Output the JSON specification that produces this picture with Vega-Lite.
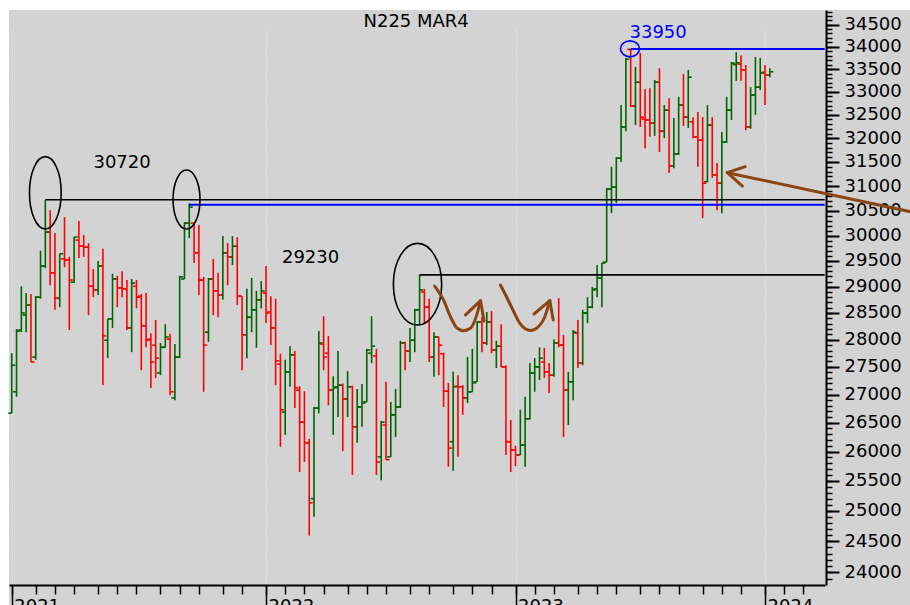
{
  "$schema": "https://vega.github.io/schema/vega-lite/v6.json",
  "width": 901,
  "height": 595,
  "autosize": {"type": "none"},
  "padding": {"left": 9, "top": 10, "right": 0, "bottom": 0},
  "background": "#ffffff",
  "config": {"view": {"fill": "#d3d3d3", "stroke": null}, "font": "DejaVu Sans"},
  "datasets": {
    "ohlc": [
      {"date":"2021-01-01","open":26670,"high":27750,"low":26670,"close":27530},
      {"date":"2021-01-08","open":27050,"high":28200,"low":26960,"close":28160},
      {"date":"2021-01-15","open":28180,"high":29010,"low":28140,"close":28500},
      {"date":"2021-01-22","open":28460,"high":28880,"low":28140,"close":28650},
      {"date":"2021-01-29","open":28650,"high":28860,"low":27590,"close":27590},
      {"date":"2021-02-05","open":27680,"high":28820,"low":27630,"close":28800},
      {"date":"2021-02-12","open":28800,"high":29700,"low":28770,"close":29400},
      {"date":"2021-02-19","open":29400,"high":30720,"low":29360,"close":30070},
      {"date":"2021-02-26","open":30070,"high":30510,"low":29030,"close":29270},
      {"date":"2021-03-05","open":29270,"high":30050,"low":28560,"close":28780},
      {"date":"2021-03-12","open":28780,"high":29640,"low":28610,"close":29640},
      {"date":"2021-03-19","open":29540,"high":30370,"low":29380,"close":29520},
      {"date":"2021-03-26","open":29520,"high":29580,"low":28180,"close":29130},
      {"date":"2021-04-02","open":29090,"high":29970,"low":29070,"close":29970},
      {"date":"2021-04-09","open":29910,"high":30290,"low":29560,"close":29790},
      {"date":"2021-04-16","open":29790,"high":30010,"low":29580,"close":29770},
      {"date":"2021-04-23","open":29770,"high":29850,"low":28460,"close":29010},
      {"date":"2021-04-30","open":29010,"high":29340,"low":28800,"close":28940},
      {"date":"2021-05-07","open":28940,"high":29500,"low":28840,"close":29400},
      {"date":"2021-05-14","open":29400,"high":29740,"low":27170,"close":28070},
      {"date":"2021-05-21","open":27990,"high":28390,"low":27660,"close":28390},
      {"date":"2021-05-28","open":28390,"high":29250,"low":28220,"close":29150},
      {"date":"2021-06-04","open":29150,"high":29210,"low":28610,"close":28980},
      {"date":"2021-06-11","open":28980,"high":29300,"low":28800,"close":28960},
      {"date":"2021-06-18","open":28960,"high":29130,"low":28180,"close":28220},
      {"date":"2021-06-25","open":28220,"high":29150,"low":27770,"close":29070},
      {"date":"2021-07-02","open":29010,"high":29130,"low":28590,"close":28800},
      {"date":"2021-07-09","open":28820,"high":28860,"low":27440,"close":28260},
      {"date":"2021-07-16","open":28260,"high":28880,"low":27860,"close":27990},
      {"date":"2021-07-23","open":28010,"high":28120,"low":27120,"close":27590},
      {"date":"2021-07-30","open":27900,"high":28370,"low":27300,"close":27660},
      {"date":"2021-08-06","open":27390,"high":27940,"low":27350,"close":27860},
      {"date":"2021-08-13","open":27860,"high":28290,"low":27850,"close":28050},
      {"date":"2021-08-20","open":28010,"high":28110,"low":26990,"close":27050},
      {"date":"2021-08-27","open":26940,"high":27920,"low":26900,"close":27680},
      {"date":"2021-09-03","open":27680,"high":29210,"low":27660,"close":29190},
      {"date":"2021-09-10","open":29150,"high":30270,"low":29150,"close":30250},
      {"date":"2021-09-17","open":30250,"high":30650,"low":29950,"close":30570},
      {"date":"2021-09-24","open":30250,"high":30250,"low":29460,"close":29660},
      {"date":"2021-10-01","open":29660,"high":30210,"low":28840,"close":29130},
      {"date":"2021-10-08","open":29130,"high":29190,"low":27050,"close":27900},
      {"date":"2021-10-15","open":28140,"high":29170,"low":27960,"close":29150},
      {"date":"2021-10-22","open":29150,"high":29540,"low":28460,"close":28920},
      {"date":"2021-10-29","open":28920,"high":29270,"low":28420,"close":28840},
      {"date":"2021-11-05","open":28840,"high":29990,"low":28750,"close":29660},
      {"date":"2021-11-12","open":29660,"high":29850,"low":29030,"close":29580},
      {"date":"2021-11-19","open":29580,"high":29990,"low":29420,"close":29790},
      {"date":"2021-11-26","open":29790,"high":29970,"low":28650,"close":28820},
      {"date":"2021-12-03","open":28820,"high":28820,"low":27440,"close":28090},
      {"date":"2021-12-10","open":28090,"high":28960,"low":27660,"close":28420},
      {"date":"2021-12-17","open":28420,"high":29170,"low":28140,"close":28560},
      {"date":"2021-12-24","open":28560,"high":28920,"low":27850,"close":28750},
      {"date":"2021-12-31","open":28750,"high":29110,"low":28590,"close":28920},
      {"date":"2022-01-07","open":28880,"high":29400,"low":28310,"close":28500},
      {"date":"2022-01-14","open":28520,"high":28820,"low":27900,"close":28220},
      {"date":"2022-01-21","open":28220,"high":28770,"low":27170,"close":27610},
      {"date":"2022-01-28","open":27550,"high":27740,"low":26080,"close":26730},
      {"date":"2022-02-04","open":26690,"high":27630,"low":26290,"close":27410},
      {"date":"2022-02-11","open":27410,"high":27880,"low":27140,"close":27720},
      {"date":"2022-02-18","open":27720,"high":27790,"low":26760,"close":27120},
      {"date":"2022-02-25","open":27080,"high":27150,"low":25650,"close":26510},
      {"date":"2022-03-04","open":26510,"high":27060,"low":25820,"close":26150},
      {"date":"2022-03-11","open":26150,"high":26220,"low":24590,"close":25130},
      {"date":"2022-03-18","open":25200,"high":26780,"low":24900,"close":26760},
      {"date":"2022-03-25","open":26760,"high":28160,"low":26670,"close":27940},
      {"date":"2022-04-01","open":27920,"high":28440,"low":27440,"close":27680},
      {"date":"2022-04-08","open":27750,"high":28070,"low":26810,"close":27080},
      {"date":"2022-04-15","open":27080,"high":27330,"low":26290,"close":27120},
      {"date":"2022-04-22","open":27140,"high":27790,"low":26600,"close":27170},
      {"date":"2022-04-29","open":27170,"high":27200,"low":26010,"close":26920},
      {"date":"2022-05-06","open":26920,"high":27420,"low":26600,"close":27140},
      {"date":"2022-05-13","open":27140,"high":27160,"low":25600,"close":26430},
      {"date":"2022-05-20","open":26430,"high":27100,"low":26150,"close":26780},
      {"date":"2022-05-27","open":26780,"high":27190,"low":26430,"close":26850},
      {"date":"2022-06-03","open":26870,"high":27830,"low":26870,"close":27810},
      {"date":"2022-06-10","open":27750,"high":28440,"low":27570,"close":27880},
      {"date":"2022-06-17","open":27700,"high":27830,"low":25600,"close":25820},
      {"date":"2022-06-24","open":25910,"high":26530,"low":25510,"close":26510},
      {"date":"2022-07-01","open":26460,"high":27230,"low":25860,"close":25860},
      {"date":"2022-07-08","open":25910,"high":26870,"low":25910,"close":26640},
      {"date":"2022-07-15","open":26640,"high":27100,"low":26250,"close":26780},
      {"date":"2022-07-22","open":26780,"high":27980,"low":26760,"close":27940},
      {"date":"2022-07-29","open":27940,"high":27960,"low":27440,"close":27790},
      {"date":"2022-08-05","open":27790,"high":28220,"low":27590,"close":27990},
      {"date":"2022-08-12","open":27990,"high":28580,"low":27770,"close":28560},
      {"date":"2022-08-19","open":28560,"high":29230,"low":28270,"close":28940},
      {"date":"2022-08-26","open":28900,"high":28960,"low":28310,"close":28610},
      {"date":"2022-09-02","open":28610,"high":28770,"low":27590,"close":27680},
      {"date":"2022-09-09","open":27680,"high":28140,"low":27320,"close":28050},
      {"date":"2022-09-16","open":28050,"high":28050,"low":27350,"close":27900},
      {"date":"2022-09-23","open":27740,"high":27760,"low":26780,"close":27060},
      {"date":"2022-09-30","open":27060,"high":27210,"low":25740,"close":26060},
      {"date":"2022-10-07","open":26170,"high":27410,"low":25670,"close":27140},
      {"date":"2022-10-14","open":27150,"high":27350,"low":25910,"close":27140},
      {"date":"2022-10-21","open":27140,"high":27170,"low":26640,"close":26940},
      {"date":"2022-10-28","open":26940,"high":27680,"low":26850,"close":27050},
      {"date":"2022-11-04","open":27050,"high":27830,"low":27050,"close":27210},
      {"date":"2022-11-11","open":27230,"high":28350,"low":27230,"close":28330},
      {"date":"2022-11-18","open":28330,"high":28420,"low":27770,"close":27940},
      {"date":"2022-11-25","open":27940,"high":28520,"low":27900,"close":28330},
      {"date":"2022-12-02","open":28330,"high":28540,"low":27750,"close":27810},
      {"date":"2022-12-09","open":27810,"high":27980,"low":27480,"close":27880},
      {"date":"2022-12-16","open":27880,"high":28290,"low":27500,"close":27500},
      {"date":"2022-12-23","open":27500,"high":27530,"low":25940,"close":26170},
      {"date":"2022-12-30","open":26170,"high":26550,"low":25650,"close":26030},
      {"date":"2023-01-06","open":26030,"high":26100,"low":25750,"close":25940},
      {"date":"2023-01-13","open":25940,"high":26730,"low":25940,"close":26110},
      {"date":"2023-01-20","open":26110,"high":26960,"low":25740,"close":26570},
      {"date":"2023-01-27","open":26570,"high":27570,"low":26560,"close":27390},
      {"date":"2023-02-03","open":27390,"high":27660,"low":27050,"close":27500},
      {"date":"2023-02-10","open":27500,"high":27860,"low":27260,"close":27660},
      {"date":"2023-02-17","open":27590,"high":27850,"low":27300,"close":27410},
      {"date":"2023-02-24","open":27410,"high":27570,"low":27030,"close":27350},
      {"date":"2023-03-03","open":27350,"high":28010,"low":27320,"close":27940},
      {"date":"2023-03-10","open":27940,"high":28780,"low":27860,"close":27900},
      {"date":"2023-03-17","open":27900,"high":28090,"low":26250,"close":27080},
      {"date":"2023-03-24","open":27080,"high":27410,"low":26460,"close":27230},
      {"date":"2023-03-31","open":27230,"high":28180,"low":26900,"close":28140},
      {"date":"2023-04-07","open":28120,"high":28370,"low":27480,"close":27570},
      {"date":"2023-04-14","open":27570,"high":28560,"low":27530,"close":28500},
      {"date":"2023-04-21","open":28500,"high":28800,"low":28310,"close":28610},
      {"date":"2023-04-28","open":28610,"high":29000,"low":28590,"close":28940},
      {"date":"2023-05-05","open":28960,"high":29420,"low":28800,"close":29170},
      {"date":"2023-05-12","open":29170,"high":29460,"low":28610,"close":29460},
      {"date":"2023-05-19","open":29480,"high":30960,"low":29480,"close":30940},
      {"date":"2023-05-26","open":30940,"high":31400,"low":30450,"close":30980},
      {"date":"2023-06-02","open":30980,"high":31600,"low":30660,"close":31580},
      {"date":"2023-06-09","open":31580,"high":32710,"low":31500,"close":32240},
      {"date":"2023-06-16","open":32240,"high":33750,"low":32150,"close":33720},
      {"date":"2023-06-23","open":33940,"high":33950,"low":32670,"close":32690},
      {"date":"2023-06-30","open":32690,"high":33550,"low":32280,"close":33210},
      {"date":"2023-07-07","open":33210,"high":33860,"low":32240,"close":32450},
      {"date":"2023-07-14","open":32410,"high":33060,"low":31790,"close":32390},
      {"date":"2023-07-21","open":32390,"high":33080,"low":32030,"close":32320},
      {"date":"2023-07-28","open":32320,"high":33260,"low":32050,"close":33210},
      {"date":"2023-08-04","open":33210,"high":33520,"low":31710,"close":32150},
      {"date":"2023-08-11","open":32150,"high":32710,"low":32000,"close":32600},
      {"date":"2023-08-18","open":32600,"high":32860,"low":31270,"close":31420},
      {"date":"2023-08-25","open":31420,"high":32430,"low":31370,"close":31670},
      {"date":"2023-09-01","open":31670,"high":32890,"low":31650,"close":32710},
      {"date":"2023-09-08","open":32710,"high":33390,"low":32260,"close":32450},
      {"date":"2023-09-15","open":32450,"high":33480,"low":32220,"close":33320},
      {"date":"2023-09-22","open":32350,"high":32450,"low":32000,"close":32030},
      {"date":"2023-09-29","open":32030,"high":32560,"low":31400,"close":31960},
      {"date":"2023-10-06","open":31960,"high":32450,"low":30350,"close":31060},
      {"date":"2023-10-13","open":31090,"high":32710,"low":31080,"close":32280},
      {"date":"2023-10-20","open":32280,"high":32450,"low":31170,"close":31230},
      {"date":"2023-10-27","open":31230,"high":31480,"low":30510,"close":31060},
      {"date":"2023-11-03","open":31060,"high":32130,"low":30450,"close":31920},
      {"date":"2023-11-10","open":31920,"high":32890,"low":31900,"close":32600},
      {"date":"2023-11-17","open":32600,"high":33660,"low":32390,"close":33630},
      {"date":"2023-11-24","open":33600,"high":33880,"low":33240,"close":33640},
      {"date":"2023-12-01","open":33610,"high":33810,"low":33240,"close":33480},
      {"date":"2023-12-08","open":33480,"high":33590,"low":32170,"close":32240},
      {"date":"2023-12-15","open":32240,"high":33100,"low":32200,"close":32930},
      {"date":"2023-12-22","open":32930,"high":33770,"low":32500,"close":33100},
      {"date":"2023-12-29","open":33100,"high":33750,"low":33040,"close":33410},
      {"date":"2024-01-05","open":33430,"high":33590,"low":32710,"close":33370},
      {"date":"2024-01-12","open":33370,"high":33520,"low":33320,"close":33440}
    ],
    "blackLevels": [
      {"start":"2021-02-19","end":"2024-04-01","price":30720},
      {"start":"2022-08-19","end":"2024-04-01","price":29230}
    ],
    "blueLevels": [
      {"start":"2021-09-17","end":"2024-04-01","price":30620},
      {"start":"2023-06-23","end":"2024-04-01","price":33950}
    ],
    "curves": [
      {"arrow":"a","date":"2022-09-10","price":29014},
      {"arrow":"a","date":"2022-09-23","price":28746},
      {"arrow":"a","date":"2022-10-03","price":28431},
      {"arrow":"a","date":"2022-10-13","price":28213},
      {"arrow":"a","date":"2022-10-22","price":28168},
      {"arrow":"a","date":"2022-11-01","price":28213},
      {"arrow":"a","date":"2022-11-08","price":28369},
      {"arrow":"a","date":"2022-11-16","price":28733},
      {"arrow":"b","date":"2022-12-15","price":29034},
      {"arrow":"b","date":"2022-12-24","price":28803},
      {"arrow":"b","date":"2023-01-03","price":28537},
      {"arrow":"b","date":"2023-01-13","price":28293},
      {"arrow":"b","date":"2023-01-28","price":28172},
      {"arrow":"b","date":"2023-02-08","price":28237},
      {"arrow":"b","date":"2023-02-17","price":28406},
      {"arrow":"b","date":"2023-02-25","price":28733}
    ],
    "segments": [
      {"date":"2022-11-16","price":28733,"date2":"2022-10-25","price2":28463},
      {"date":"2022-11-16","price":28733,"date2":"2022-11-21","price2":28350},
      {"date":"2023-02-25","price":28733,"date2":"2023-02-02","price2":28481},
      {"date":"2023-02-25","price":28733,"date2":"2023-03-02","price2":28369},
      {"date":"2023-11-11","price":31277,"date2":"2024-08-04","price2":30479},
      {"date":"2023-11-11","price":31277,"date2":"2023-12-07","price2":31402},
      {"date":"2023-11-11","price":31277,"date2":"2023-12-03","price2":31002}
    ],
    "blackTexts": [
      {"date":"2022-08-14","price":34562,"label":"N225 MAR4"},
      {"date":"2021-06-11","price":31472,"label":"30720"},
      {"date":"2022-03-13","price":29567,"label":"29230"}
    ],
    "blueTexts": [
      {"date":"2023-08-02","price":34310,"label":"33950"}
    ]
  },
  "resolve": {"axis": {"x": "independent", "y": "independent"}},
  "layer": [
    {
      "data": {"name": "ohlc"},
      "mark": {"type": "rule", "strokeWidth": 1.6},
      "encoding": {
        "x": {
          "field": "date", "type": "temporal",
          "scale": {"type": "utc", "nice": false, "range": [0, 816], "domain": [{"year": 2020, "month": 12, "date": 28, "utc": true}, {"year": 2024, "month": 4, "date": 1, "hours": 12, "utc": true}]},
          "axis": {
            "orient": "bottom", "offset": -20, "title": null, "labels": false, "grid": false,
            "values": [
              {"year":2021,"month":1,"date":1,"utc":true},{"year":2021,"month":2,"date":5,"utc":true},{"year":2021,"month":3,"date":5,"utc":true},{"year":2021,"month":4,"date":2,"utc":true},{"year":2021,"month":5,"date":7,"utc":true},{"year":2021,"month":6,"date":4,"utc":true},{"year":2021,"month":7,"date":2,"utc":true},{"year":2021,"month":8,"date":6,"utc":true},{"year":2021,"month":9,"date":3,"utc":true},{"year":2021,"month":10,"date":1,"utc":true},{"year":2021,"month":11,"date":5,"utc":true},{"year":2021,"month":12,"date":3,"utc":true},
              {"year":2022,"month":1,"date":7,"utc":true},{"year":2022,"month":2,"date":4,"utc":true},{"year":2022,"month":3,"date":4,"utc":true},{"year":2022,"month":4,"date":1,"utc":true},{"year":2022,"month":5,"date":6,"utc":true},{"year":2022,"month":6,"date":3,"utc":true},{"year":2022,"month":7,"date":1,"utc":true},{"year":2022,"month":8,"date":5,"utc":true},{"year":2022,"month":9,"date":2,"utc":true},{"year":2022,"month":10,"date":7,"utc":true},{"year":2022,"month":11,"date":4,"utc":true},{"year":2022,"month":12,"date":2,"utc":true},
              {"year":2023,"month":1,"date":6,"utc":true},{"year":2023,"month":2,"date":3,"utc":true},{"year":2023,"month":3,"date":3,"utc":true},{"year":2023,"month":4,"date":7,"utc":true},{"year":2023,"month":5,"date":5,"utc":true},{"year":2023,"month":6,"date":2,"utc":true},{"year":2023,"month":7,"date":7,"utc":true},{"year":2023,"month":8,"date":4,"utc":true},{"year":2023,"month":9,"date":1,"utc":true},{"year":2023,"month":10,"date":6,"utc":true},{"year":2023,"month":11,"date":3,"utc":true},{"year":2023,"month":12,"date":1,"utc":true},
              {"year":2024,"month":1,"date":5,"utc":true},{"year":2024,"month":2,"date":2,"utc":true},{"year":2024,"month":3,"date":1,"utc":true}
            ],
            "domainColor": "black", "domainWidth": 2,
            "tickColor": "black", "tickWidth": 1.5, "tickSize": 9
          }
        },
        "y": {
          "field": "low", "type": "quantitative",
          "scale": {"type": "log", "domain": [23799, 34838], "range": [575, 0], "nice": false},
          "axis": {
            "orient": "right", "offset": -84, "title": null, "grid": false,
            "values": [24000,24500,25000,25500,26000,26500,27000,27500,28000,28500,29000,29500,30000,30500,31000,31500,32000,32500,33000,33500,34000,34500],
            "format": "d", "labelFontSize": 18, "labelColor": "black", "labelFont": "DejaVu Sans",
            "labelPadding": 5, "labelOverlap": false, "labelFlush": false, "labelBound": false,
            "tickSize": 13, "tickWidth": 2, "tickColor": "black",
            "domainColor": "black", "domainWidth": 2
          }
        },
        "y2": {"field": "high"},
        "color": {"condition": {"test": "datum.close >= datum.open", "value": "#006400"}, "value": "#ff0000"}
      }
    },
    {
      "data": {"name": "ohlc"},
      "mark": {"type": "rule", "strokeWidth": 1.6, "xOffset": -3.5, "x2Offset": 0},
      "encoding": {
        "x": {"field": "date", "type": "temporal",
          "scale": {"type": "utc", "nice": false, "range": [0, 816], "domain": [{"year": 2020, "month": 12, "date": 28, "utc": true}, {"year": 2024, "month": 4, "date": 1, "hours": 12, "utc": true}]},
          "axis": {
            "orient": "bottom", "offset": -20, "title": null, "domain": false,
            "values": [{"year":2021,"month":1,"date":1,"utc":true},{"year":2022,"month":1,"date":7,"utc":true},{"year":2023,"month":1,"date":6,"utc":true},{"year":2024,"month":1,"date":5,"utc":true}],
            "labelExpr": "utcFormat(datum.value, '%Y')",
            "labelAlign": "left", "labelBaseline": "top", "labelPadding": -13, "labelOffset": 2,
            "labelFontSize": 18, "labelColor": "black", "labelFont": "DejaVu Sans",
            "labelOverlap": false, "labelFlush": false, "labelBound": false,
            "tickColor": "black", "tickWidth": 1.5, "tickSize": 25,
            "grid": true, "gridColor": "#ececec", "gridDash": [1, 2], "gridWidth": 1
          }
        },
        "x2": {"field": "date"},
        "y": {
          "field": "open", "type": "quantitative",
          "scale": {"type": "log", "domain": [23799, 34838], "range": [575, 0], "nice": false},
          "axis": {
            "orient": "right", "offset": -84, "title": null, "grid": false, "labels": false, "domain": false,
            "tickSize": 6, "tickWidth": 1.5, "tickColor": "black",
            "values": [23900,24000,24100,24200,24300,24400,24500,24600,24700,24800,24900,25000,25100,25200,25300,25400,25500,25600,25700,25800,25900,26000,26100,26200,26300,26400,26500,26600,26700,26800,26900,27000,27100,27200,27300,27400,27500,27600,27700,27800,27900,28000,28100,28200,28300,28400,28500,28600,28700,28800,28900,29000,29100,29200,29300,29400,29500,29600,29700,29800,29900,30000,30100,30200,30300,30400,30500,30600,30700,30800,30900,31000,31100,31200,31300,31400,31500,31600,31700,31800,31900,32000,32100,32200,32300,32400,32500,32600,32700,32800,32900,33000,33100,33200,33300,33400,33500,33600,33700,33800,33900,34000,34100,34200,34300,34400,34500,34600,34700,34800]
          }
        },
        "color": {"condition": {"test": "datum.close >= datum.open", "value": "#006400"}, "value": "#ff0000"}
      }
    },
    {
      "data": {"name": "ohlc"},
      "mark": {"type": "rule", "strokeWidth": 1.6, "xOffset": 0, "x2Offset": 3.5},
      "encoding": {
        "x": {"field": "date", "type": "temporal", "axis": null,
          "scale": {"type": "utc", "nice": false, "range": [0, 816], "domain": [{"year": 2020, "month": 12, "date": 28, "utc": true}, {"year": 2024, "month": 4, "date": 1, "hours": 12, "utc": true}]}},
        "x2": {"field": "date"},
        "y": {"field": "close", "type": "quantitative", "axis": null,
          "scale": {"type": "log", "domain": [23799, 34838], "range": [575, 0], "nice": false}},
        "color": {"condition": {"test": "datum.close >= datum.open", "value": "#006400"}, "value": "#ff0000"}
      }
    },
    {
      "data": {"name": "blackLevels"},
      "mark": {"type": "rule", "strokeWidth": 1.6, "color": "black"},
      "encoding": {
        "x": {"field": "start", "type": "temporal", "axis": null,
          "scale": {"type": "utc", "nice": false, "range": [0, 816], "domain": [{"year": 2020, "month": 12, "date": 28, "utc": true}, {"year": 2024, "month": 4, "date": 1, "hours": 12, "utc": true}]}},
        "x2": {"field": "end"},
        "y": {"field": "price", "type": "quantitative", "axis": null,
          "scale": {"type": "log", "domain": [23799, 34838], "range": [575, 0], "nice": false}}
      }
    },
    {
      "data": {"name": "blueLevels"},
      "mark": {"type": "rule", "strokeWidth": 2, "color": "#0000ff"},
      "encoding": {
        "x": {"field": "start", "type": "temporal", "axis": null,
          "scale": {"type": "utc", "nice": false, "range": [0, 816], "domain": [{"year": 2020, "month": 12, "date": 28, "utc": true}, {"year": 2024, "month": 4, "date": 1, "hours": 12, "utc": true}]}},
        "x2": {"field": "end"},
        "y": {"field": "price", "type": "quantitative", "axis": null,
          "scale": {"type": "log", "domain": [23799, 34838], "range": [575, 0], "nice": false}}
      }
    },
    {
      "data": {"values": [{"date": "2021-02-19", "price": 30863}]},
      "mark": {"type": "point", "shape": "M0.4385,0C0.4385,0.5523,0.2422,1,0,1C-0.2422,1,-0.4385,0.5523,-0.4385,0C-0.4385,-0.5523,-0.2422,-1,0,-1C0.2422,-1,0.4385,-0.5523,0.4385,0Z", "size": 5227, "filled": false, "color": "black", "strokeWidth": 1.6, "opacity": 1},
      "encoding": {
        "x": {"field": "date", "type": "temporal", "axis": null,
          "scale": {"type": "utc", "nice": false, "range": [0, 816], "domain": [{"year": 2020, "month": 12, "date": 28, "utc": true}, {"year": 2024, "month": 4, "date": 1, "hours": 12, "utc": true}]}},
        "y": {"field": "price", "type": "quantitative", "axis": null,
          "scale": {"type": "log", "domain": [23799, 34838], "range": [575, 0], "nice": false}}
      }
    },
    {
      "data": {"values": [{"date": "2021-09-13", "price": 30726}]},
      "mark": {"type": "point", "shape": "M0.4576,0C0.4576,0.5523,0.2527,1,0,1C-0.2527,1,-0.4576,0.5523,-0.4576,0C-0.4576,-0.5523,-0.2527,-1,0,-1C0.2527,-1,0.4576,-0.5523,0.4576,0Z", "size": 3481, "filled": false, "color": "black", "strokeWidth": 1.6, "opacity": 1},
      "encoding": {
        "x": {"field": "date", "type": "temporal", "axis": null,
          "scale": {"type": "utc", "nice": false, "range": [0, 816], "domain": [{"year": 2020, "month": 12, "date": 28, "utc": true}, {"year": 2024, "month": 4, "date": 1, "hours": 12, "utc": true}]}},
        "y": {"field": "price", "type": "quantitative", "axis": null,
          "scale": {"type": "log", "domain": [23799, 34838], "range": [575, 0], "nice": false}}
      }
    },
    {
      "data": {"values": [{"date": "2022-08-16", "price": 29049}]},
      "mark": {"type": "point", "shape": "M0.591,0C0.591,0.5523,0.3264,1,0,1C-0.3264,1,-0.591,0.5523,-0.591,0C-0.591,-0.5523,-0.3264,-1,0,-1C0.3264,-1,0.591,-0.5523,0.591,0Z", "size": 6675, "filled": false, "color": "black", "strokeWidth": 1.6, "opacity": 1},
      "encoding": {
        "x": {"field": "date", "type": "temporal", "axis": null,
          "scale": {"type": "utc", "nice": false, "range": [0, 816], "domain": [{"year": 2020, "month": 12, "date": 28, "utc": true}, {"year": 2024, "month": 4, "date": 1, "hours": 12, "utc": true}]}},
        "y": {"field": "price", "type": "quantitative", "axis": null,
          "scale": {"type": "log", "domain": [23799, 34838], "range": [575, 0], "nice": false}}
      }
    },
    {
      "data": {"values": [{"date": "2023-06-22", "price": 33953}]},
      "mark": {"type": "point", "shape": "M1,0C1,0.465,0.5523,0.842,0,0.842C-0.5523,0.842,-1,0.465,-1,0C-1,-0.465,-0.5523,-0.842,0,-0.842C0.5523,-0.842,1,-0.465,1,0Z", "size": 361, "filled": false, "color": "#0000ff", "strokeWidth": 1.6, "opacity": 1},
      "encoding": {
        "x": {"field": "date", "type": "temporal", "axis": null,
          "scale": {"type": "utc", "nice": false, "range": [0, 816], "domain": [{"year": 2020, "month": 12, "date": 28, "utc": true}, {"year": 2024, "month": 4, "date": 1, "hours": 12, "utc": true}]}},
        "y": {"field": "price", "type": "quantitative", "axis": null,
          "scale": {"type": "log", "domain": [23799, 34838], "range": [575, 0], "nice": false}}
      }
    },
    {
      "data": {"name": "curves"},
      "mark": {"type": "line", "interpolate": "monotone", "strokeWidth": 3, "color": "#8b4513", "strokeCap": "round"},
      "encoding": {
        "x": {"field": "date", "type": "temporal", "axis": null,
          "scale": {"type": "utc", "nice": false, "range": [0, 816], "domain": [{"year": 2020, "month": 12, "date": 28, "utc": true}, {"year": 2024, "month": 4, "date": 1, "hours": 12, "utc": true}]}},
        "y": {"field": "price", "type": "quantitative", "axis": null,
          "scale": {"type": "log", "domain": [23799, 34838], "range": [575, 0], "nice": false}},
        "detail": {"field": "arrow", "type": "nominal"}
      }
    },
    {
      "data": {"name": "segments"},
      "mark": {"type": "rule", "strokeWidth": 3, "color": "#8b4513", "strokeCap": "round"},
      "encoding": {
        "x": {"field": "date", "type": "temporal", "axis": null,
          "scale": {"type": "utc", "nice": false, "range": [0, 816], "domain": [{"year": 2020, "month": 12, "date": 28, "utc": true}, {"year": 2024, "month": 4, "date": 1, "hours": 12, "utc": true}]}},
        "x2": {"field": "date2"},
        "y": {"field": "price", "type": "quantitative", "axis": null,
          "scale": {"type": "log", "domain": [23799, 34838], "range": [575, 0], "nice": false}},
        "y2": {"field": "price2"}
      }
    },
    {
      "data": {"name": "blackTexts"},
      "mark": {"type": "text", "fontSize": 18, "font": "DejaVu Sans", "align": "center", "baseline": "middle", "color": "black"},
      "encoding": {
        "x": {"field": "date", "type": "temporal", "axis": null,
          "scale": {"type": "utc", "nice": false, "range": [0, 816], "domain": [{"year": 2020, "month": 12, "date": 28, "utc": true}, {"year": 2024, "month": 4, "date": 1, "hours": 12, "utc": true}]}},
        "y": {"field": "price", "type": "quantitative", "axis": null,
          "scale": {"type": "log", "domain": [23799, 34838], "range": [575, 0], "nice": false}},
        "text": {"field": "label", "type": "nominal"}
      }
    },
    {
      "data": {"name": "blueTexts"},
      "mark": {"type": "text", "fontSize": 18, "font": "DejaVu Sans", "align": "center", "baseline": "middle", "color": "#0000ff"},
      "encoding": {
        "x": {"field": "date", "type": "temporal", "axis": null,
          "scale": {"type": "utc", "nice": false, "range": [0, 816], "domain": [{"year": 2020, "month": 12, "date": 28, "utc": true}, {"year": 2024, "month": 4, "date": 1, "hours": 12, "utc": true}]}},
        "y": {"field": "price", "type": "quantitative", "axis": null,
          "scale": {"type": "log", "domain": [23799, 34838], "range": [575, 0], "nice": false}},
        "text": {"field": "label", "type": "nominal"}
      }
    }
  ]
}
